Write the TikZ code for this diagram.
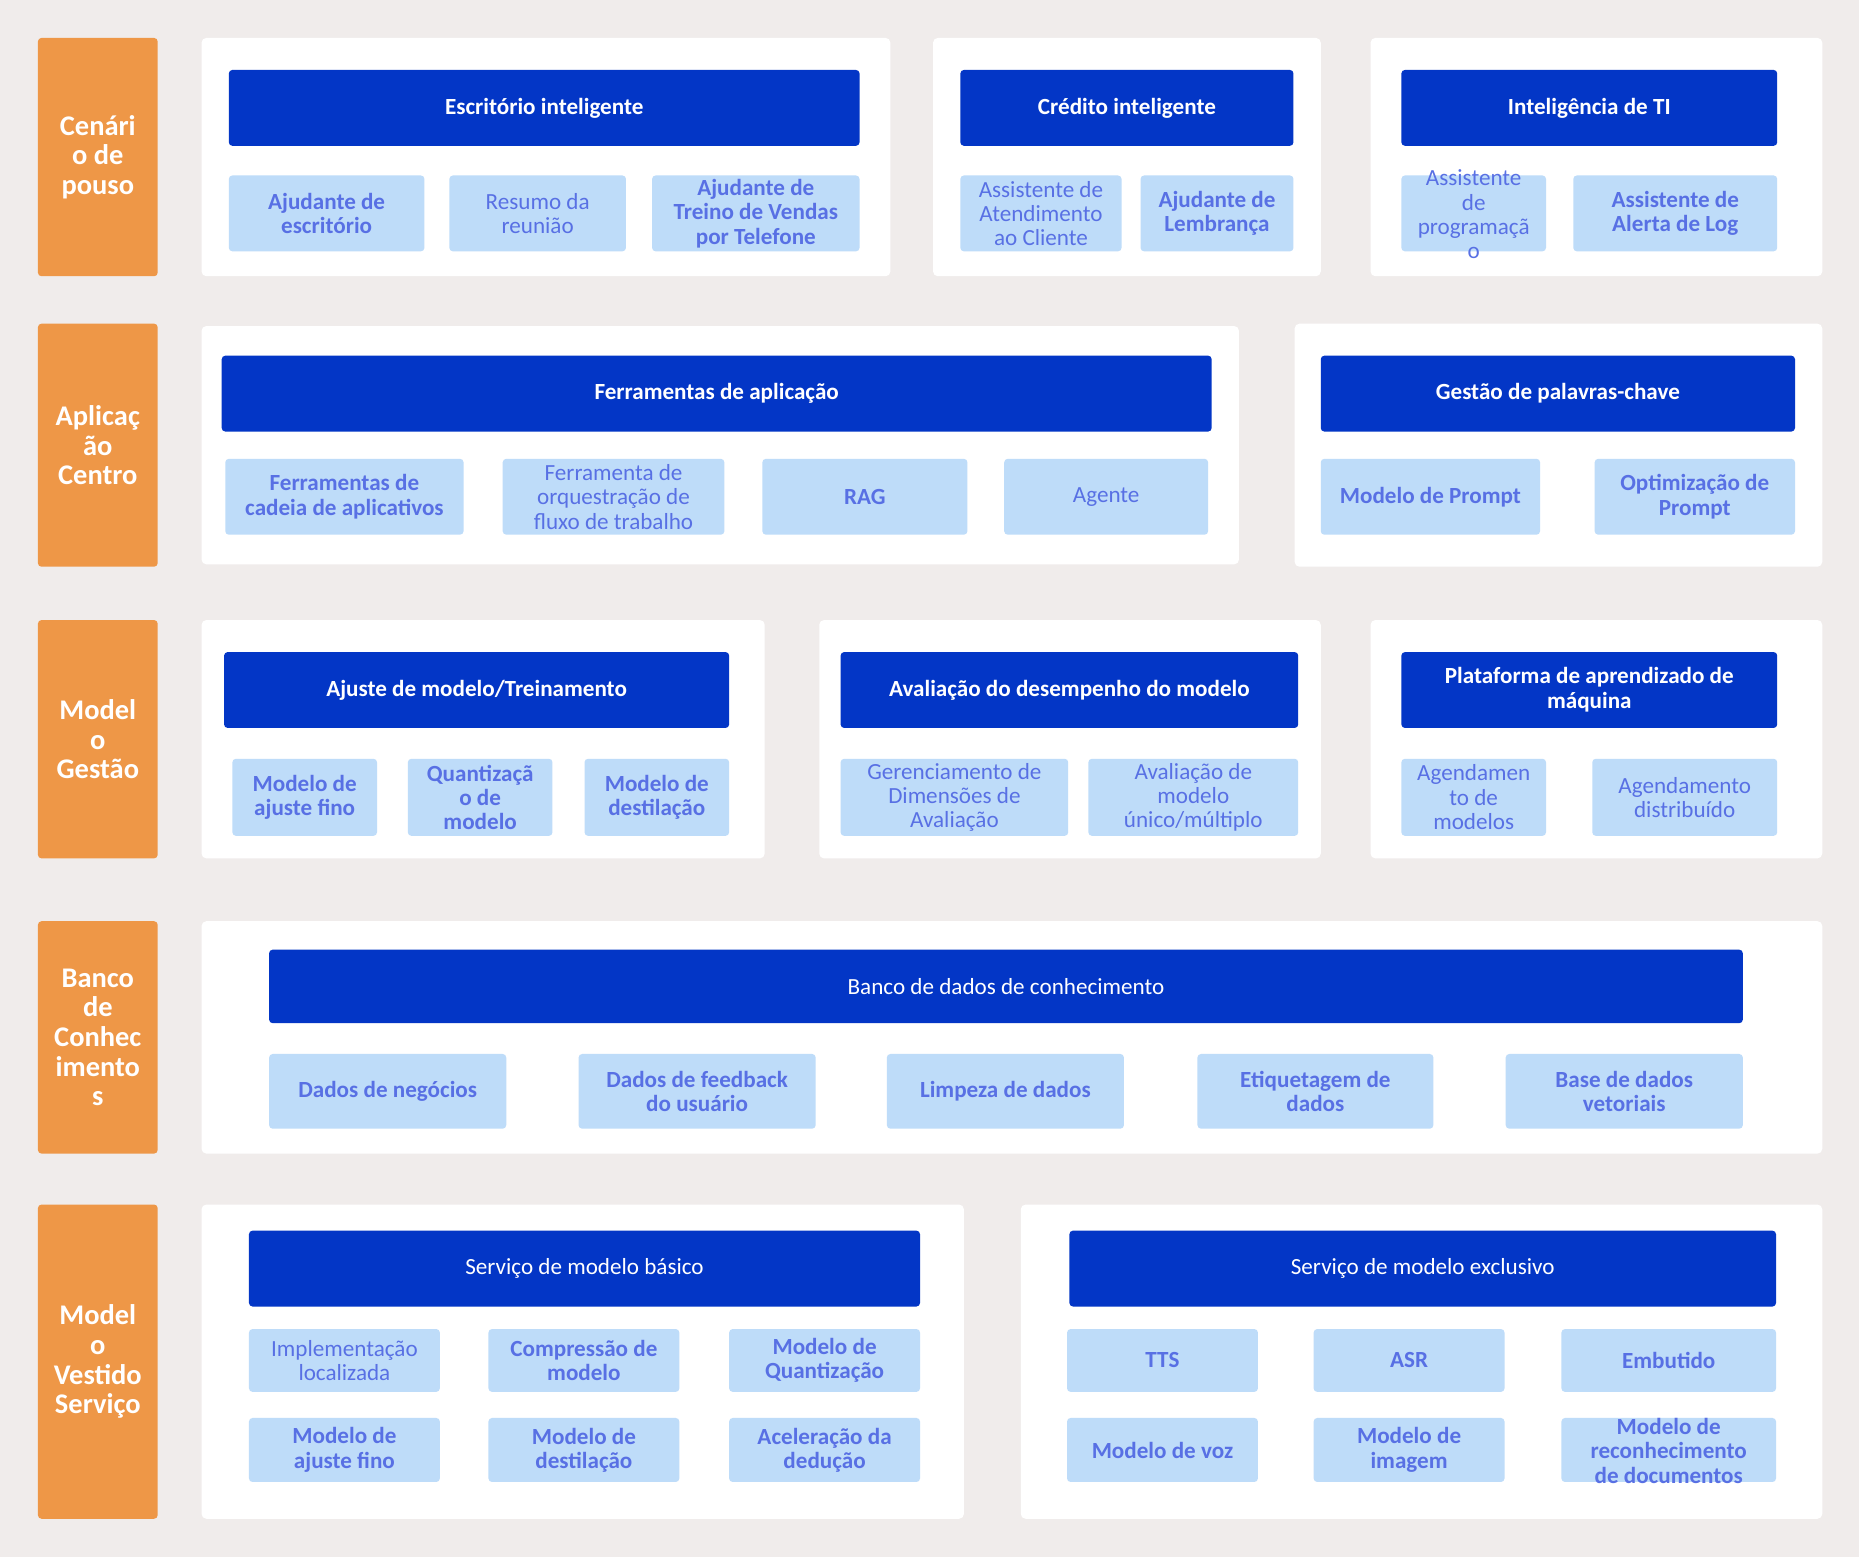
\documentclass[tikz,border=0pt]{standalone}
\usepackage{fontspec}
\setmainfont{Carlito}
\definecolor{bgc}{RGB}{240,236,235}
\definecolor{orangec}{RGB}{238,151,71}
\definecolor{bluec}{RGB}{3,54,198}
\definecolor{lightc}{RGB}{190,220,249}
\definecolor{itemc}{RGB}{88,112,228}
\newcommand\ov[1]{\raisebox{-8.5pt}[0pt][0pt]{\begin{tabular}[c]{@{}c@{}}#1\end{tabular}}}
\newcommand\bx[7]{\node[#1, minimum width={#5pt-#3pt}, minimum height={#6pt-#4pt}] (#2) at ({(#3+#5)/2},{(#4+#6)/2}) {#7};}
\begin{document}
\begin{tikzpicture}[x=1pt,y=-1pt,
  every node/.style={inner sep=0pt, outer sep=0pt},
  cat/.style={fill=orangec, rounded corners=3pt, text=white, align=center, font=\fontsize{24}{25}\selectfont\bfseries},
  panel/.style={fill=white, rounded corners=4pt},
  hdr/.style={fill=bluec, rounded corners=3pt, text=white, align=center, font=\fontsize{19.5}{21}\selectfont\bfseries},
  hdrn/.style={hdr, font=\fontsize{19.5}{21}\selectfont},
  itm/.style={fill=lightc, rounded corners=3pt, text=itemc, align=center, font=\fontsize{19.5}{20.5}\selectfont\bfseries},
  itmn/.style={itm, font=\fontsize{19.5}{20.5}\selectfont}]
\useasboundingbox (0,0) rectangle (1568,1313);
\fill[bgc] (0,0) rectangle (1568,1313);
% Row 1
\bx{cat}{c1}{32}{32}{133}{233}{Cenári\\o de\\pouso}
\bx{panel}{p11}{170}{32}{751}{233}{}
\bx{hdr}{h11}{193}{59}{725}{123}{Escritório inteligente}
\bx{itm}{i111}{193}{148}{358}{212}{Ajudante de\\escritório}
\bx{itmn}{i112}{379}{148}{528}{212}{Resumo da\\reunião}
\bx{itm}{i113}{550}{148}{725}{212}{Ajudante de\\Treino de Vendas\\por Telefone}
\bx{panel}{p12}{787}{32}{1114}{233}{}
\bx{hdr}{h12}{810}{59}{1091}{123}{Crédito inteligente}
\bx{itmn}{i121}{810}{148}{946}{212}{Assistente de\\Atendimento\\ao Cliente}
\bx{itm}{i122}{962}{148}{1091}{212}{Ajudante de\\Lembrança}
\bx{panel}{p13}{1156}{32}{1537}{233}{}
\bx{hdr}{h13}{1182}{59}{1499}{123}{Inteligência de TI}
\bx{itmn}{i131}{1182}{148}{1304}{212}{\ov{Assistente\\de\\programaçã\\o}}
\bx{itm}{i132}{1327}{148}{1499}{212}{Assistente de\\Alerta de Log}
% Row 2
\bx{cat}{c2}{32}{273}{133}{478}{Aplicaç\\ão\\Centro}
\bx{panel}{p21}{170}{275}{1045}{476}{}
\bx{hdr}{h21}{187}{300}{1022}{364}{Ferramentas de aplicação}
\bx{itm}{i211}{190}{387}{391}{451}{Ferramentas de\\cadeia de aplicativos}
\bx{itmn}{i212}{424}{387}{611}{451}{Ferramenta de\\orquestração de\\fluxo de trabalho}
\bx{itm}{i213}{643}{387}{816}{451}{RAG}
\bx{itmn}{i214}{847}{387}{1019}{451}{Agente}
\bx{panel}{p22}{1092}{273}{1537}{478}{}
\bx{hdr}{h22}{1114}{300}{1514}{364}{Gestão de palavras-chave}
\bx{itm}{i221}{1114}{387}{1299}{451}{Modelo de Prompt}
\bx{itm}{i222}{1345}{387}{1514}{451}{Optimização de\\Prompt}
% Row 3
\bx{cat}{c3}{32}{523}{133}{724}{Model\\o\\Gestão}
\bx{panel}{p31}{170}{523}{645}{724}{}
\bx{hdr}{h31}{189}{550}{615}{614}{Ajuste de modelo/Treinamento}
\bx{itm}{i311}{196}{640}{318}{705}{Modelo de\\ajuste fino}
\bx{itm}{i312}{344}{640}{466}{705}{Quantizaçã\\o de\\modelo}
\bx{itm}{i313}{493}{640}{615}{705}{Modelo de\\destilação}
\bx{panel}{p32}{691}{523}{1114}{724}{}
\bx{hdr}{h32}{709}{550}{1095}{614}{Avaliação do desempenho do modelo}
\bx{itmn}{i321}{709}{640}{901}{705}{Gerenciamento de\\Dimensões de\\Avaliação}
\bx{itmn}{i322}{918}{640}{1095}{705}{Avaliação de\\modelo\\único/múltiplo}
\bx{panel}{p33}{1156}{523}{1537}{724}{}
\bx{hdr}{h33}{1182}{550}{1499}{614}{Plataforma de aprendizado de\\máquina}
\bx{itmn}{i331}{1182}{640}{1304}{705}{Agendamen\\to de\\modelos}
\bx{itmn}{i332}{1343}{640}{1499}{705}{Agendamento\\distribuído}
% Row 4
\bx{cat}{c4}{32}{777}{133}{973}{Banco\\de\\Conhec\\imento\\s}
\bx{panel}{p4}{170}{777}{1537}{973}{}
\bx{hdrn}{h4}{227}{801}{1470}{863}{Banco de dados de conhecimento}
\bx{itm}{i41}{227}{889}{427}{952}{Dados de negócios}
\bx{itm}{i42}{488}{889}{688}{952}{Dados de feedback\\do usuário}
\bx{itm}{i43}{748}{889}{948}{952}{Limpeza de dados}
\bx{itm}{i44}{1010}{889}{1209}{952}{Etiquetagem de\\dados}
\bx{itm}{i45}{1270}{889}{1470}{952}{Base de dados\\vetoriais}
% Row 5
\bx{cat}{c5}{32}{1016}{133}{1281}{Model\\o\\Vestido\\Serviço}
\bx{panel}{p51}{170}{1016}{813}{1281}{}
\bx{hdrn}{h51}{210}{1038}{776}{1102}{Serviço de modelo básico}
\bx{itmn}{i511}{210}{1121}{371}{1174}{Implementação\\localizada}
\bx{itm}{i512}{412}{1121}{573}{1174}{Compressão de\\modelo}
\bx{itm}{i513}{615}{1121}{776}{1174}{Modelo de\\Quantização}
\bx{itm}{i514}{210}{1196}{371}{1250}{Modelo de\\ajuste fino}
\bx{itm}{i515}{412}{1196}{573}{1250}{Modelo de\\destilação}
\bx{itm}{i516}{615}{1196}{776}{1250}{Aceleração da\\dedução}
\bx{panel}{p52}{861}{1016}{1537}{1281}{}
\bx{hdrn}{h52}{902}{1038}{1498}{1102}{Serviço de modelo exclusivo}
\bx{itm}{i521}{900}{1121}{1061}{1174}{TTS}
\bx{itm}{i522}{1108}{1121}{1269}{1174}{ASR}
\bx{itm}{i523}{1317}{1121}{1498}{1174}{Embutido}
\bx{itm}{i524}{900}{1196}{1061}{1250}{Modelo de voz}
\bx{itm}{i525}{1108}{1196}{1269}{1250}{Modelo de\\imagem}
\bx{itm}{i526}{1317}{1196}{1498}{1250}{\ov{Modelo de\\reconhecimento\\de documentos}}
\end{tikzpicture}
\end{document}
